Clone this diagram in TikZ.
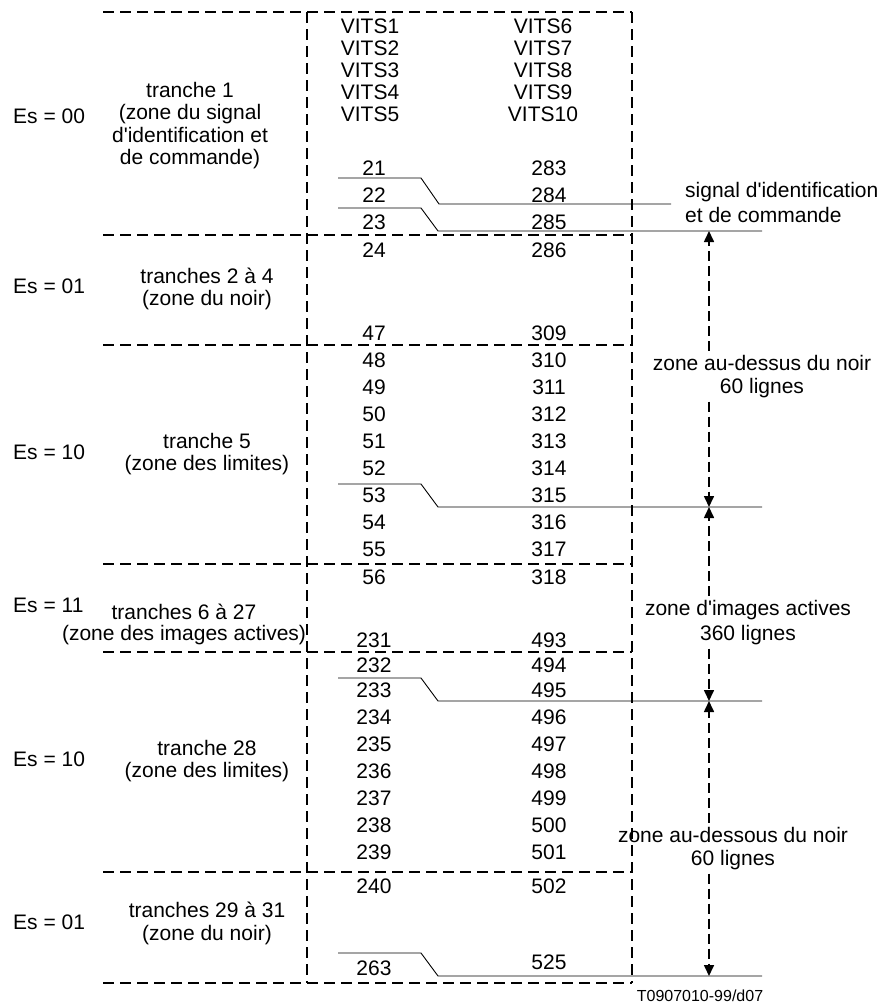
\documentclass[tikz,border=0pt]{standalone}
\usepackage{fontspec}
\setmainfont{Liberation Sans}[Ligatures=TeXOff]
\usetikzlibrary{arrows.meta}
\begin{document}
\begin{tikzpicture}[x=1pt,y=-1pt,
  txt/.style={anchor=base,inner sep=0pt,font=\fontsize{21}{23}\selectfont},
  esl/.style={txt,anchor=base west},
  lab/.style={txt,inner sep=4pt},
  sig/.style={txt,anchor=base west},
  refl/.style={anchor=base,inner sep=0pt,font=\fontsize{16}{18}\selectfont},
  grid/.style={line width=1.8pt,dash pattern=on 11pt off 6pt},
  stepline/.style={line width=0.9pt},
  dimline/.style={line width=1.6pt,dash pattern=on 10pt off 5pt},
  tip/.style={-{Triangle[length=11pt,width=10pt]}},
]
\useasboundingbox (0,0) rectangle (880,1004);

% dashed frame and separators
\foreach \y in {12,235,345,564,652,872,983}
  \draw[grid] (103,\y) -- (632,\y);
\draw[grid] (307,12) -- (307,983);
\draw[grid] (632,12) -- (632,983);

% step lines
\draw[stepline] (338,178) -- (421,178) -- (439,204) -- (671,204);
\draw[stepline] (338,208) -- (421,208) -- (438,231) -- (762,231);
\draw[stepline] (338,484) -- (421,484) -- (438,507) -- (762,507);
\draw[stepline] (338,678) -- (421,678) -- (438,701) -- (762,701);
\draw[stepline] (338,953) -- (421,953) -- (438,976) -- (762,976);

% Es labels
\node[esl] (es1) at (13,123) {Es = 00};
\node[esl] (es2) at (13,293) {Es = 01};
\node[esl] (es3) at (13,459) {Es = 10};
\node[esl] (es4) at (13,612) {Es = 11};
\node[esl] (es5) at (13,766) {Es = 10};
\node[esl] (es6) at (13,929) {Es = 01};

% tranche labels
\node[txt] (t1a) at (190,97) {tranche 1};
\node[txt] (t1b) at (190,119.5) {(zone du signal};
\node[txt] (t1c) at (190,142) {d'identification et};
\node[txt] (t1d) at (190,164.5) {de commande)};
\node[txt] (t2a) at (207,283) {tranches 2 à 4};
\node[txt] (t2b) at (207,305) {(zone du noir)};
\node[txt] (t3a) at (207,448) {tranche 5};
\node[txt] (t3b) at (207,470) {(zone des limites)};
\node[txt] (t4a) at (184,619) {tranches 6 à 27};
\node[txt] (t4b) at (184,640) {(zone des images actives)};
\node[txt] (t5a) at (207,755) {tranche 28};
\node[txt] (t5b) at (207,777) {(zone des limites)};
\node[txt] (t6a) at (207,917) {tranches 29 à 31};
\node[txt] (t6b) at (207,940) {(zone du noir)};

% VITS
\foreach \a/\b/\y [count=\i] in {VITS1/VITS6/33,VITS2/VITS7/55,VITS3/VITS8/77,VITS4/VITS9/99,VITS5/VITS10/121}{
  \node[txt] (vl\i) at (370,\y) {\a};
  \node[txt] (vr\i) at (543,\y) {\b};
}

% line numbers
\foreach \a/\b/\y [count=\i] in {21/283/175,22/284/202,23/285/229,24/286/257,47/309/340,
  48/310/367,49/311/394,50/312/421,51/313/448,52/314/475,53/315/502,54/316/529,55/317/556,
  56/318/584,231/493/647,232/494/672,233/495/697,234/496/724,235/497/751,236/498/778,
  237/499/805,238/500/832,239/501/859,240/502/893}{
  \node[txt] (nl\i) at (374,\y) {\a};
  \node[txt] (nr\i) at (549,\y) {\b};
}
\node[txt] (nlend) at (374,975) {263};
\node[txt] (nrend) at (549,969) {525};

% right-hand labels
\node[sig] (sg1) at (685,197) {signal d'identification};
\node[sig] (sg2) at (685,222) {et de commande};
\node[lab] (za1) at (762,370) {zone au-dessus du noir};
\node[lab] (za2) at (762,393) {60 lignes};
\node[lab] (zb1) at (748,615) {zone d'images actives};
\node[lab] (zb2) at (748,640) {360 lignes};
\node[lab] (zc1) at (733,842) {zone au-dessous du noir};
\node[lab] (zc2) at (733,865) {60 lignes};

% dimension arrows
\coordinate (a1) at (709,231);
\coordinate (a2) at (709,507);
\coordinate (a3) at (709,701);
\coordinate (a4) at (709,976);
\draw[dimline,tip] (za1.north -| a1) -- (a1);
\draw[dimline,tip] (za2.south -| a1) -- (a2);
\draw[dimline,tip] (zb1.north -| a1) -- (a2);
\draw[dimline,tip] (zb2.south -| a1) -- (a3);
\draw[dimline,tip] (zc1.north -| a1) -- (a3);
\draw[dimline,tip] (zc2.south -| a1) -- (a4);

\node[refl] (ref) at (700,1001) {T0907010-99/d07};
\end{tikzpicture}
\end{document}
